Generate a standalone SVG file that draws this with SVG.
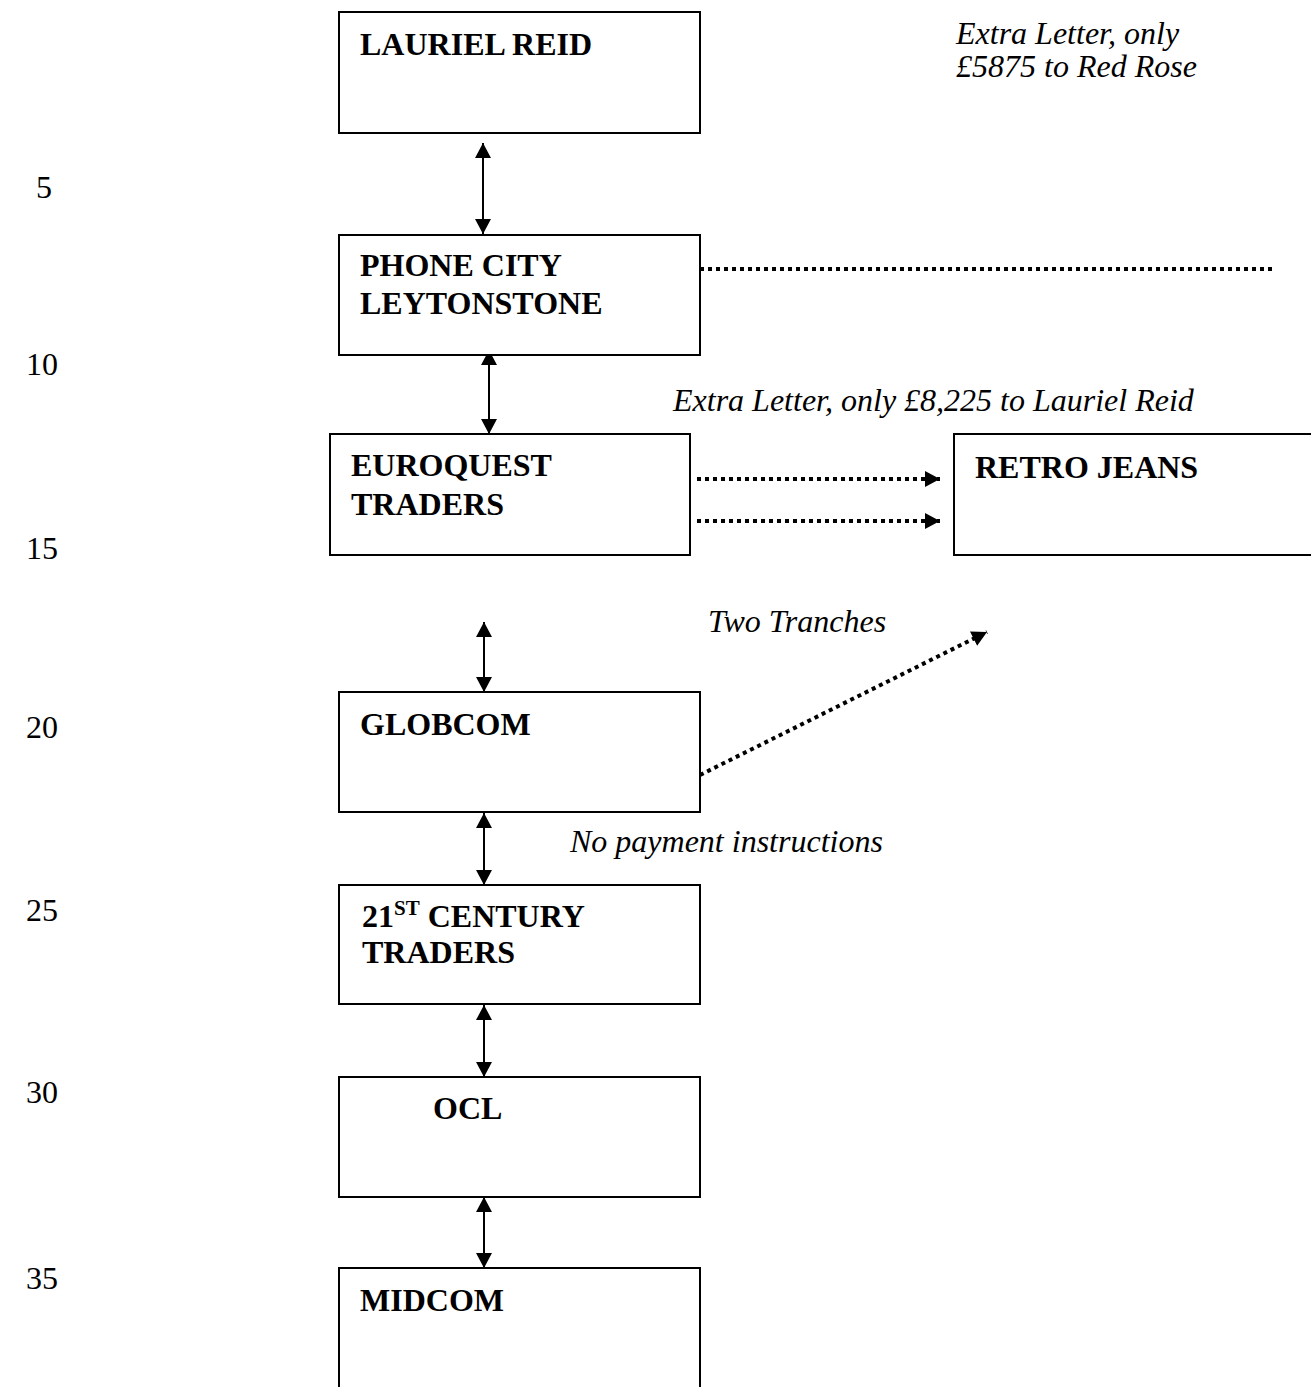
<svg xmlns="http://www.w3.org/2000/svg" width="1311" height="1387" viewBox="0 0 1311 1387">
<style>
.box{fill:#fff;stroke:#000;stroke-width:2}
.lbl{font-family:"Liberation Serif",serif;font-size:32px;font-weight:bold;fill:#000}
.note{font-family:"Liberation Serif",serif;font-size:32px;font-style:italic;fill:#000}
.num{font-family:"Liberation Serif",serif;font-size:32px;fill:#000}
.solid{stroke:#000;stroke-width:2;fill:none}
.dot{stroke:#000;stroke-width:4;stroke-dasharray:4 4;fill:none}
</style>
<defs>
<marker id="ah" viewBox="0 0 15 16" refX="15" refY="8" markerWidth="15" markerHeight="16" markerUnits="userSpaceOnUse" orient="auto-start-reverse"><path d="M0,0 L15,8 L0,16 Z" fill="#000"/></marker>
</defs>
<rect width="1311" height="1387" fill="#fff"/>
<g id="line-numbers">
<text class="num" x="36" y="198">5</text>
<text class="num" x="26" y="375">10</text>
<text class="num" x="26" y="559">15</text>
<text class="num" x="26" y="738">20</text>
<text class="num" x="26" y="921">25</text>
<text class="num" x="26" y="1103">30</text>
<text class="num" x="26" y="1289">35</text>
</g>
<g id="connectors">
<line class="solid" x1="483" y1="143" x2="483" y2="234" marker-start="url(#ah)" marker-end="url(#ah)"/>
<line class="solid" x1="489" y1="350" x2="489" y2="434" marker-start="url(#ah)" marker-end="url(#ah)"/>
<line class="solid" x1="484" y1="622" x2="484" y2="692" marker-start="url(#ah)" marker-end="url(#ah)"/>
<line class="solid" x1="484" y1="813" x2="484" y2="885" marker-start="url(#ah)" marker-end="url(#ah)"/>
<line class="solid" x1="484" y1="1005" x2="484" y2="1077" marker-start="url(#ah)" marker-end="url(#ah)"/>
<line class="solid" x1="484" y1="1197" x2="484" y2="1268" marker-start="url(#ah)" marker-end="url(#ah)"/>
<line class="dot" x1="700" y1="269" x2="1272" y2="269"/>
<line class="dot" x1="697" y1="479" x2="940" y2="479" marker-end="url(#ah)"/>
<line class="dot" x1="697" y1="521" x2="940" y2="521" marker-end="url(#ah)"/>
<line class="dot" x1="700" y1="775" x2="987" y2="632" marker-end="url(#ah)"/>
</g>
<g id="notes">
<text class="note" x="956" y="44">Extra Letter, only</text>
<text class="note" x="956" y="77">£5875 to Red Rose</text>
<text class="note" x="673" y="411">Extra Letter, only £8,225 to Lauriel Reid</text>
<text class="note" x="708" y="632">Two Tranches</text>
<text class="note" x="570" y="852">No payment instructions</text>
</g>
<g id="lauriel-reid">
<rect class="box" x="339" y="12" width="361" height="121"/>
<text class="lbl" x="360" y="55">LAURIEL REID</text>
</g>
<g id="phone-city">
<rect class="box" x="339" y="235" width="361" height="120"/>
<text class="lbl" x="360" y="276">PHONE CITY</text>
<text class="lbl" x="360" y="314">LEYTONSTONE</text>
</g>
<g id="euroquest">
<rect class="box" x="330" y="434" width="360" height="121"/>
<text class="lbl" x="351" y="476">EUROQUEST</text>
<text class="lbl" x="351" y="515">TRADERS</text>
</g>
<g id="retro-jeans">
<rect class="box" x="954" y="434" width="370" height="121"/>
<text class="lbl" x="975" y="478">RETRO JEANS</text>
</g>
<g id="globcom">
<rect class="box" x="339" y="692" width="361" height="120"/>
<text class="lbl" x="360" y="735">GLOBCOM</text>
</g>
<g id="century">
<rect class="box" x="339" y="885" width="361" height="119"/>
<text class="lbl" x="362" y="927">21<tspan font-size="21" dy="-12">ST</tspan><tspan dy="12"> CENTURY</tspan></text>
<text class="lbl" x="362" y="963">TRADERS</text>
</g>
<g id="ocl">
<rect class="box" x="339" y="1077" width="361" height="120"/>
<text class="lbl" x="433" y="1119">OCL</text>
</g>
<g id="midcom">
<rect class="box" x="339" y="1268" width="361" height="140"/>
<text class="lbl" x="360" y="1311">MIDCOM</text>
</g>
</svg>
